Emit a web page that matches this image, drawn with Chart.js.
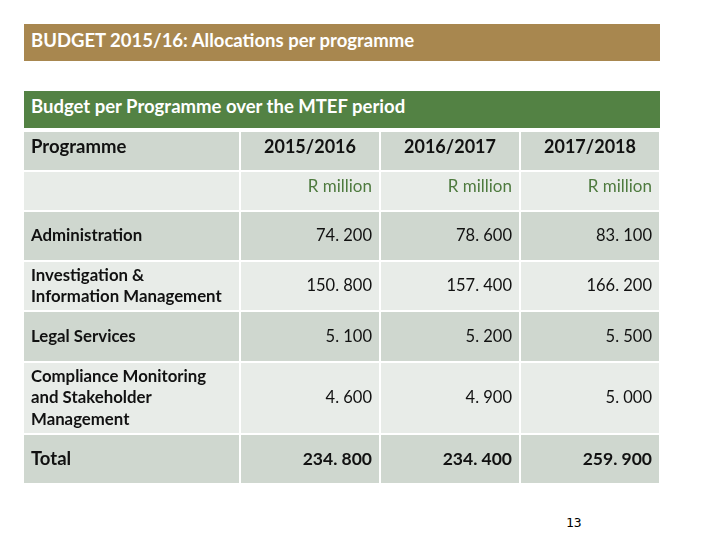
<!DOCTYPE html>
<html>
<head>
<meta charset="utf-8">
<script src="https://cdn.jsdelivr.net/npm/chart.js@4.4.1/dist/chart.umd.min.js"></script>
<style>
  body { margin: 0; width: 720px; height: 540px; background: #fff; position: relative; overflow: hidden; font-family: Lato, "Open Sans", sans-serif; }
  .banner { position: absolute; left: 24px; width: 636px; color: #fff; font-weight: bold; font-size: 18.5px; box-sizing: border-box; padding-left: 7px; }
  #b1 { top: 24px; height: 37px; line-height: 32px; background: #a8874f; }
  #b2 { top: 91px; height: 37px; line-height: 31px; background: #538244; }
  #page { position: absolute; left: 566px; top: 515px; font-size: 13px; font-family: "DejaVu Sans Mono", monospace; color: #000; }
  #tbl { position: absolute; left: 24px; top: 130px; }
</style>
</head>
<body>
<div class="banner" id="b1">BUDGET 2015/16: Allocations per programme</div>
<div class="banner" id="b2">Budget per Programme over the MTEF period</div>
<canvas id="tbl" width="636" height="354"></canvas>
<div id="page">13</div>
<script>
// datos de la tabla
const firstHeader = "Programme";
const years = ["2015/2016", "2016/2017", "2017/2018"];
const unitLabel = "R million";
const programmes = [
    ["Administration"],
    ["Investigation &", "Information Management"],
    ["Legal Services"],
    ["Compliance Monitoring", "and Stakeholder", "Management"],
    ["Total"]
];
const fy2015 = [74.2, 150.8, 5.1, 4.6, 234.8];
const fy2016 = [78.6, 157.4, 5.2, 4.9, 234.4];
const fy2017 = [83.1, 166.2, 5.5, 5.0, 259.9];

// medidas de la tabla (layout)
const colWidths = [215, 140, 140, 140];
const rowHeights = [40, 40, 50, 50, 51, 72, 50];
const gap = 2;

const fmt = v => v.toFixed(3).replace(".", ". ");

document.addEventListener("DOMContentLoaded", function() {
    const series = [fy2015, fy2016, fy2017];
    const totalW = colWidths.reduce((a, b) => a + b, 0);
    const totalH = rowHeights.reduce((a, b) => a + b, 0);

    // filas: encabezado, unidades, programas
    const rows = [];
    rows.push({ cells: [[firstHeader]].concat(years.map(y => [y])), kind: "head" });
    rows.push({ cells: [[""]].concat(years.map(() => [unitLabel])), kind: "unit" });
    programmes.forEach((p, i) => {
        rows.push({
            cells: [p].concat(series.map(s => [fmt(s[i])])),
            kind: i === programmes.length - 1 ? "total" : "data"
        });
    });

    const tablePlugin = {
        id: "tablePlugin",
        afterDraw: function(chart) {
            const ctx = chart.ctx;
            const xs = chart.scales.x;
            const ys = chart.scales.y;
            let rowTop = 0;
            ctx.save();
            rows.forEach((row, r) => {
                const y0 = ys.getPixelForValue(rowTop + gap);
                const y1 = ys.getPixelForValue(rowTop + rowHeights[r]);
                let colLeft = 0;
                row.cells.forEach((lines, c) => {
                    const x0 = xs.getPixelForValue(colLeft + (c > 0 ? gap : 0));
                    const x1 = xs.getPixelForValue(colLeft + colWidths[c]);
                    // filas alternas oscuro / claro
                    ctx.fillStyle = (r === 1 || r === 3 || r === 5) ? "#e8ece8" : "#cfd7cf";
                    ctx.fillRect(x0, y0, x1 - x0, y1 - y0);

                    // texto
                    let font = "16.5px Lato";
                    let color = "#111";
                    let align = "right";
                    if (c === 0) {
                        align = "left";
                        font = (row.kind === "head" || row.kind === "total") ? "bold 18.5px Lato" : "bold 16.8px Lato";
                    } else if (row.kind === "head") {
                        align = "center";
                        font = "bold 18px Lato";
                    } else if (row.kind === "unit") {
                        color = "#4e7a3e";
                        font = "17px Lato";
                    } else if (row.kind === "total") {
                        font = "bold 17.5px Lato";
                    }
                    ctx.font = font;
                    ctx.fillStyle = color;
                    ctx.textAlign = align;
                    ctx.textBaseline = "middle";
                    const lh = 21.5;
                    let cy = (y0 + y1) / 2;
                    if (row.kind === "head" || row.kind === "unit") cy -= 4;
                    const tx = align === "left" ? x0 + 7 : (align === "center" ? (x0 + x1) / 2 : x1 - 7);
                    lines.forEach((t, k) => {
                        ctx.fillText(t, tx, cy + (k - (lines.length - 1) / 2) * lh);
                    });
                    colLeft += colWidths[c];
                });
                rowTop += rowHeights[r];
            });
            ctx.restore();
        }
    };

    new Chart(document.getElementById("tbl").getContext("2d"), {
        type: "scatter",
        data: { datasets: [{ data: [] }] },
        options: {
            responsive: false,
            animation: false,
            layout: { padding: 0 },
            plugins: { legend: { display: false }, tooltip: { enabled: false } },
            scales: {
                x: { type: "linear", min: 0, max: totalW + 1, display: false },
                y: { type: "linear", min: 0, max: totalH + 1, reverse: true, display: false }
            }
        },
        plugins: [tablePlugin]
    });
});
</script>
</body>
</html>
